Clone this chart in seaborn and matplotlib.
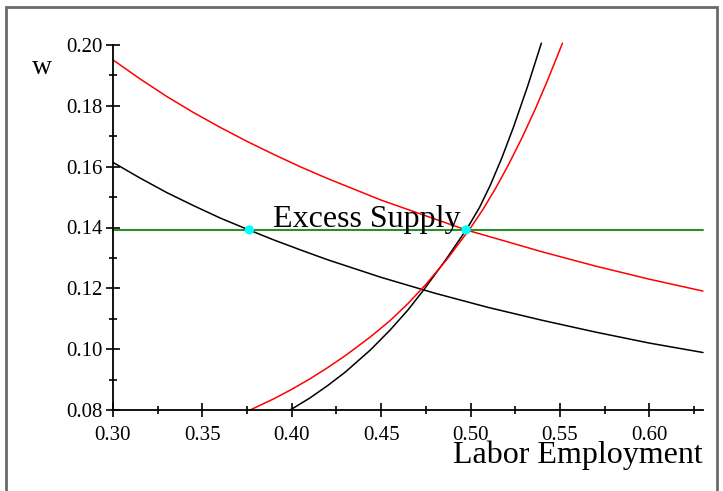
import matplotlib
matplotlib.use("Agg")
import matplotlib.pyplot as plt
from matplotlib.patches import Rectangle
from matplotlib.ticker import FixedLocator
import seaborn as sns

# ---- data ----
demand_black_L = [0.300, 0.315, 0.330, 0.345, 0.360, 0.376, 0.390, 0.405, 0.420, 0.450, 0.480,
                  0.510, 0.540, 0.570, 0.600, 0.630]
demand_black_w = [0.1614, 0.1563, 0.1515, 0.1472, 0.1431, 0.1392, 0.1359, 0.1326, 0.1294, 0.1236, 0.1184,
                  0.1137, 0.1095, 0.1056, 0.1020, 0.0989]

demand_red_L = [0.300, 0.315, 0.330, 0.345, 0.360, 0.375, 0.390, 0.405, 0.420, 0.450, 0.480, 0.4975,
                0.510, 0.540, 0.570, 0.600, 0.630]
demand_red_w = [0.1951, 0.1889, 0.1831, 0.1778, 0.1729, 0.1683, 0.1640, 0.1599, 0.1561, 0.1490, 0.1428, 0.1392,
                0.1371, 0.1320, 0.1273, 0.1230, 0.1191]

supply_black_L = [0.3991, 0.410, 0.420, 0.430, 0.4439, 0.455, 0.465, 0.4738, 0.486, 0.4982,
                  0.505, 0.5111, 0.5175, 0.524, 0.532, 0.5396]
supply_black_w = [0.0800, 0.0839, 0.0880, 0.0925, 0.0997, 0.1063, 0.1129, 0.1195, 0.1293, 0.1398,
                  0.1466, 0.1540, 0.1629, 0.1730, 0.1866, 0.2006]

supply_red_L = [0.3767, 0.390, 0.400, 0.410, 0.420, 0.430, 0.4439, 0.455, 0.465, 0.475, 0.487,
                0.4999, 0.507, 0.514, 0.521, 0.529, 0.536, 0.543, 0.5514]
supply_red_w = [0.0800, 0.0837, 0.0868, 0.0902, 0.0939, 0.0979, 0.1040, 0.1094, 0.1150, 0.1213, 0.1297,
                0.1398, 0.1460, 0.1529, 0.1604, 0.1698, 0.1787, 0.1883, 0.2006]

wage_level = 0.1392
wage_line_L = [0.30, 0.63]

points_L = [0.3763, 0.4975]
points_w = [0.1392, 0.1392]

x_ticks = [0.30, 0.35, 0.40, 0.45, 0.50, 0.55, 0.60]
x_tick_labels = ["0.30", "0.35", "0.40", "0.45", "0.50", "0.55", "0.60"]
x_minor = [0.325, 0.375, 0.425, 0.475, 0.525, 0.575, 0.625]
y_ticks = [0.08, 0.10, 0.12, 0.14, 0.16, 0.18, 0.20]
y_tick_labels = ["0.08", "0.10", "0.12", "0.14", "0.16", "0.18", "0.20"]
y_minor = [0.09, 0.11, 0.13, 0.15, 0.17, 0.19]

# ---- style ----
sns.set_theme(style="white")
plt.rcParams["font.family"] = ["Liberation Serif", "DejaVu Serif"]

fig = plt.figure(figsize=(7.23, 4.91), dpi=100)
ax = fig.add_axes([113 / 723, 1 - 410 / 491, (703 - 113) / 723, (410 - 45) / 491])

lw = 1.1
sns.lineplot(x=demand_black_L, y=demand_black_w, color="black", lw=lw, ax=ax,
             estimator=None, sort=False)
sns.lineplot(x=demand_red_L, y=demand_red_w, color="#ff0000", lw=lw, ax=ax,
             estimator=None, sort=False)
sns.lineplot(x=supply_black_L, y=supply_black_w, color="black", lw=lw, ax=ax,
             estimator=None, sort=False)
sns.lineplot(x=supply_red_L, y=supply_red_w, color="#ff0000", lw=lw, ax=ax,
             estimator=None, sort=False)
sns.lineplot(x=wage_line_L, y=[wage_level] * len(wage_line_L), color="#2a8f2a",
             lw=1.5, ax=ax, estimator=None, sort=False)
sns.scatterplot(x=points_L, y=points_w, color="#00ffff", s=45, edgecolor="none",
                ax=ax, zorder=5)

for line in ax.get_lines():
    line.set_clip_on(False)
    line.set_solid_joinstyle("round")

ax.set_xlim(0.30, 0.63)
ax.set_ylim(0.08, 0.20)

for s in ["top", "right"]:
    ax.spines[s].set_visible(False)
for s in ["left", "bottom"]:
    ax.spines[s].set_color("black")
    ax.spines[s].set_linewidth(1.3)

ax.xaxis.set_major_locator(FixedLocator(x_ticks))
ax.set_xticklabels(x_tick_labels)
ax.xaxis.set_minor_locator(FixedLocator(x_minor))
ax.yaxis.set_major_locator(FixedLocator(y_ticks))
ax.set_yticklabels(y_tick_labels)
ax.yaxis.set_minor_locator(FixedLocator(y_minor))

ax.tick_params(axis="both", which="major", direction="inout", length=10.5, width=1.2,
               color="black", labelsize=15, labelcolor="black")
ax.tick_params(axis="both", which="minor", direction="inout", length=5.5, width=1.2,
               color="black")
ax.tick_params(axis="x", which="major", pad=6)
ax.tick_params(axis="y", which="major", pad=2)
ax.tick_params(axis="both", which="both", bottom=True, left=True)

ax.set_xlabel("")
ax.set_ylabel("")

ax.text(0.3896, 0.1402, "Excess Supply", fontsize=23, ha="left", va="baseline",
        color="black")
fig.text(703 / 723, 1 - 463 / 491, "Labor Employment", fontsize=23, ha="right",
         va="baseline", color="black")
fig.text(42 / 723, 1 - 74 / 491, "w", fontsize=20, ha="center", va="baseline",
         color="black")

fig.patches.append(Rectangle((6 / 723, -0.02), (717 - 6) / 723, 1.02 - 7 / 491,
                             transform=fig.transFigure, fill=False,
                             edgecolor="#6a6a6a", linewidth=2))

fig.savefig("out.png", dpi=100, facecolor="white")
